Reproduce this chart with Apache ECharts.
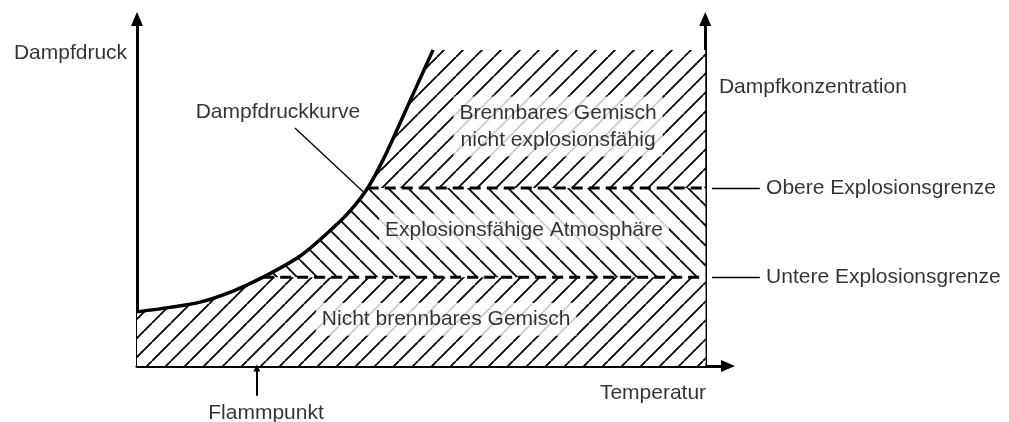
<!DOCTYPE html>
<html>
<head>
<meta charset="utf-8">
<script src="https://cdn.jsdelivr.net/npm/echarts@6/dist/echarts.min.js"></script>
<style>
  html, body { margin: 0; background: #fff; }
  #main { width: 1009px; height: 422px; }
</style>
</head>
<body>
<div id="main"></div>
<script>
// Dampfdruckkurve: Temperatur / Dampfdruck (relative Einheiten)
var curveT = [0, 5.8, 11.1, 16.9, 22.2, 28.7, 34.5, 37.5, 40.6, 43.3, 45.9, 48.9, 52.1];
var curveP = [15.6, 16.9, 18.4, 21.6, 25.6, 31.7, 39.8, 44.7, 51.3, 59.4, 68.6, 79.5, 91.1];

var lowerLimit = 25.6;   // Untere Explosionsgrenze
var upperLimit = 51.3;   // Obere Explosionsgrenze
var topLimit = 91.1;     // Ende der Schraffur oben
var tMax = 100;          // rechte Achse
var xMax = 104;          // Pfeil der Temperaturachse
var flashPoint = 21.1;

var FONT = '"Liberation Sans", Arial, sans-serif';
var GRID = { left: 137, right: 281, top: 19, bottom: 56 };

// Beschriftungen (Lage in Achseneinheiten)
var notes = [
  { text: 'Dampfdruck', at: [-11.7, 90.2] },
  { text: 'Dampfdruckkurve', at: [24.8, 73.2] },
  { text: 'Brennbares Gemisch\nnicht explosionsfähig', at: [74.1, 69.0], box: true },
  { text: 'Explosionsfähige Atmosphäre', at: [68.1, 39.2], box: true },
  { text: 'Nicht brennbares Gemisch', at: [54.4, 13.5], box: true },
  { text: 'Dampfkonzentration', at: [102.4, 80.4], left: true },
  { text: 'Obere Explosionsgrenze', at: [110.7, upperLimit], left: true },
  { text: 'Untere Explosionsgrenze', at: [110.7, lowerLimit], left: true },
  { text: 'Temperatur', at: [90.8, -7.8] },
  { text: 'Flammpunkt', at: [22.7, -13.5] }
];

// Schraffur als Kachel
function hatch(dir, step) {
  var c = document.createElement('canvas');
  c.width = c.height = step;
  var g = c.getContext('2d');
  g.fillStyle = '#fff';
  g.fillRect(0, 0, step, step);
  g.strokeStyle = '#000';
  g.lineWidth = 1.8;
  g.beginPath();
  for (var k = -step; k <= step; k += step) {
    if (dir === '/') { g.moveTo(k, step); g.lineTo(k + step, 0); }
    else { g.moveTo(k, 0); g.lineTo(k + step, step); }
  }
  g.stroke();
  return c;
}

// Kurvenpunkte bis zur Grenze, dann waagerecht bis zur rechten Achse
function under(level) {
  var pts = [];
  for (var i = 0; i < curveT.length; i++) {
    if (curveP[i] <= level) pts.push([curveT[i], curveP[i]]);
  }
  pts.push([tMax, level]);
  return pts;
}

function area(name, level, dir, step) {
  return {
    name: name,
    type: 'line',
    data: under(level),
    symbol: 'none',
    lineStyle: { width: 0 },
    areaStyle: { color: { image: hatch(dir, step), repeat: 'repeat' }, opacity: 1 },
    silent: true,
    z: 1
  };
}

function dashed(level) {
  return {
    type: 'line',
    data: under(level).slice(-2),
    symbol: 'none',
    lineStyle: { color: '#000', width: 3, type: [11, 6] },
    silent: true,
    z: 3
  };
}

function axisLine() {
  return {
    show: true,
    onZero: false,
    symbol: ['none', 'triangle'],
    symbolSize: [12, 14],
    lineStyle: { color: '#000', width: 3 }
  };
}

var chart = echarts.init(document.getElementById('main'), null, { renderer: 'canvas' });
var gridW = 1009 - GRID.left - GRID.right;

var option = {
  animation: false,
  backgroundColor: '#fff',
  grid: GRID,
  xAxis: {
    type: 'value', min: 0, max: xMax,
    axisLine: axisLine(),
    axisTick: { show: false }, axisLabel: { show: false }, splitLine: { show: false }
  },
  yAxis: [{
    type: 'value', min: 0, max: 100,
    axisLine: axisLine(),
    axisTick: { show: false }, axisLabel: { show: false }, splitLine: { show: false }
  }, {
    type: 'value', min: 0, max: 100, position: 'right',
    offset: -(xMax - tMax) * gridW / xMax,
    axisLine: axisLine(),
    axisTick: { show: false }, axisLabel: { show: false }, splitLine: { show: false }
  }],
  series: [
    area('Brennbares Gemisch', topLimit, '/', 19),
    area('Explosionsfähig', upperLimit, '\\', 20),
    area('Nicht brennbar', lowerLimit, '/', 19),
    dashed(upperLimit),
    dashed(lowerLimit),
    {
      name: 'Dampfdruckkurve',
      type: 'line',
      data: curveT.map(function (t, i) { return [t, curveP[i]]; }),
      symbol: 'none',
      smooth: 0.3,
      lineStyle: { color: '#000', width: 3.5 },
      silent: true,
      z: 4
    },
    {
      type: 'lines',
      coordinateSystem: 'cartesian2d',
      clip: false,
      silent: true,
      z: 4,
      lineStyle: { color: '#000', width: 1.3, opacity: 1, curveness: 0 },
      data: [
        { coords: [[27.8, 68.6], [39.9, 50.1]] },
        { coords: [[101.2, upperLimit], [109.6, upperLimit]] },
        { coords: [[101.2, lowerLimit], [109.6, lowerLimit]] },
        { coords: [[flashPoint, -8.6], [flashPoint, -0.6]], symbol: ['none', 'triangle'], symbolSize: [0, 7], lineStyle: { width: 2 } }
      ]
    },
    {
      type: 'scatter',
      symbolSize: 0,
      clip: false,
      silent: true,
      z: 6,
      data: notes.map(function (n) {
        return {
          value: n.at,
          label: {
            show: true,
            color: '#000',
            fontSize: 21,
            fontFamily: FONT,
            lineHeight: 27,
            position: n.left ? 'right' : 'inside',
            distance: 0,
            formatter: n.text,
            backgroundColor: n.box ? '#fff' : 'transparent',
            padding: n.box ? [3, 6] : 0
          }
        };
      })
    }
  ]
};

chart.setOption(option);
</script>
</body>
</html>
